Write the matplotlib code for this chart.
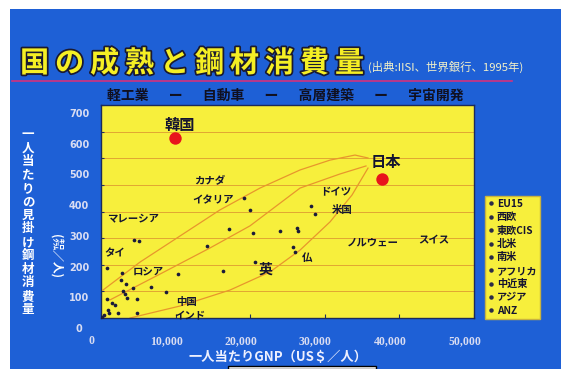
import matplotlib
matplotlib.use('Agg')
import matplotlib.pyplot as plt
import matplotlib.patheffects as pe
from matplotlib.transforms import ScaledTranslation
from matplotlib.lines import Line2D
from matplotlib.patches import Rectangle

plt.rcParams['font.family'] = ['Noto Sans CJK JP', 'DejaVu Sans']

# ---------------- data ----------------
gnp = [19970, 17200, 20420, 14250, 16390, 20640, 10360, 8710, 6660, 4790,
       850, 2780, 2640, 3350, 4250, 2990, 3220, 3450, 4790, 760,
       1430, 1880, 980, 1070, 400, 2320, 4420, 5090, 24000, 26230,
       26450, 25700, 26000, 28150, 28690, 19170, 90]
steel = [406, 334, 318, 272, 178, 209, 164, 99, 118, 20,
         187, 170, 143, 128, 112, 103, 90, 76, 71, 71,
         55, 49, 30, 18, 11, 18, 293, 289, 327, 337,
         327, 268, 249, 422, 390, 450, 3]

hl_names = ['韓国', '日本']
hl_gnp = [9900, 37700]
hl_steel = [677, 522]

lbl_names = ['カナダ', 'イタリア', 'マレーシア', 'タイ', 'ロシア', '中国', 'インド',
             '英', '仏', 'ドイツ', '米国', 'ノルウェー', 'スイス']
lbl_x = [14600, 15000, 4300, 1900, 6300, 11500, 11900,
         22000, 27600, 31500, 32300, 36500, 44600]
lbl_y = [518, 443, 376, 244, 173, 60, 8,
         180, 225, 473, 406, 282, 293]

upper_x = [270, 5230, 10590, 15950, 21310, 26680, 30700, 34050, 35790]
upper_y = [105, 210, 308, 406, 488, 556, 593, 612, 601]
middle_x = [1210, 7910, 14610, 19970, 26680, 32040, 35520]
middle_y = [68, 165, 263, 346, 488, 541, 571]
lower_x = [3890, 10590, 17290, 22650, 26680, 30700, 33650, 35790]
lower_y = [0, 45, 105, 173, 255, 361, 462, 563]

x_ticks = [0, 10000, 20000, 30000, 40000, 50000]
x_tick_labels = ['0', '10,000', '20,000', '30,000', '40,000', '50,000']
y_ticks = [0, 100, 200, 300, 400, 500, 600, 700]
y_tick_labels = ['0', '100', '200', '300', '400', '500', '600', '700']

legend_labels = ['EU15', '西欧', '東欧CIS', '北米', '南米', 'アフリカ', '中近東', 'アジア', 'ANZ']

# ---------------- figure ----------------
W, H = 561, 369
fig = plt.figure(figsize=(W / 100, H / 100), dpi=100)
fig.patch.set_facecolor('white')
BLUE = '#1e60d6'
YEL = '#f7ef3c'
fig.patches.append(Rectangle((10 / W, 0), 551 / W, 1 - 9 / H, transform=fig.transFigure,
                             facecolor=BLUE, edgecolor='none', zorder=-10))
fig.patches.append(Rectangle((228 / W, 0), 148 / W, 3 / H, transform=fig.transFigure,
                             facecolor='white', edgecolor='black', lw=1.0, zorder=5))

ax = fig.add_axes([101 / W, 1 - 318 / H, 373 / W, 213 / H])
ax.set_facecolor(YEL)
ax.set_xlim(0, 50000)
ax.set_ylim(0, 800)
ax.set_yticks(range(0, 801, 100))
ax.set_yticklabels([])
ax.grid(axis='y', color='#e2a632', lw=0.7)
ax.set_axisbelow(True)
ax.set_xticks(x_ticks)
ax.set_xticklabels(x_tick_labels, family='Liberation Serif', weight='bold',
                   fontsize=8.5, color='#d8dcf2')
ax.tick_params(axis='x', direction='in', length=3, color='#203060', pad=12)
ax.tick_params(axis='y', direction='in', length=2, color='#203060')
for lab in ax.get_xticklabels():
    lab.set_transform(lab.get_transform() + ScaledTranslation(-9.5 / 100, 0, fig.dpi_scale_trans))
for s in ax.spines.values():
    s.set_color('#1c2a5a')
    s.set_linewidth(1.0)

# guide curves
for cx, cy in [(upper_x, upper_y), (middle_x, middle_y), (lower_x, lower_y)]:
    ax.plot(cx, cy, color='#e8962c', lw=0.9, zorder=2)

ax.scatter(gnp, steel, s=7, color='#1a1a3a', zorder=3, linewidths=0)
ax.scatter(hl_gnp, hl_steel, s=80, color='#e8141c', zorder=4, linewidths=0)

ax.text(hl_gnp[0] + 600, hl_steel[0] + 48, hl_names[0], fontsize=11, weight='bold',
        color='#141430', ha='center', va='center', zorder=5)
ax.text(hl_gnp[1] + 500, hl_steel[1] + 64, hl_names[1], fontsize=11, weight='bold',
        color='#141430', ha='center', va='center', zorder=5)

for n, x, y in zip(lbl_names, lbl_x, lbl_y):
    fs = 10 if n in ('英',) else 7.5
    ax.text(x, y, n, fontsize=fs, weight='bold', color='#141430', ha='center',
            va='center', zorder=5, clip_on=False)

# y tick label axis (labels drawn with their own spacing as in the slide)
yax = fig.add_axes([79 / W, 1 - 328 / H, 0.5 / W, 215 / H])
yax.set_ylim(0, 700)
yax.set_yticks(y_ticks)
yax.set_yticklabels(y_tick_labels, family='DejaVu Sans', weight='bold',
                    fontsize=7, color='#d8dcf2')
yax.set_xticks([])
yax.set_frame_on(False)
yax.patch.set_alpha(0)
yax.tick_params(axis='y', length=0, pad=0)
for lab in yax.get_yticklabels():
    lab.set_horizontalalignment('center')

# legend
handles = [Line2D([], [], marker='o', ls='none', color='#2a2a48', markersize=2.2)
           for _ in legend_labels]
leg = fig.legend(handles, legend_labels, loc='upper left',
                 bbox_to_anchor=(485 / W, 1 - 196 / H), bbox_transform=fig.transFigure,
                 frameon=True, fancybox=False, facecolor=YEL, edgecolor='#c8b240',
                 framealpha=1, prop={'size': 7.3, 'weight': 'bold'},
                 labelspacing=0.33, handlelength=0.5, handletextpad=0.35,
                 borderpad=0.3, borderaxespad=0)
for t in leg.get_texts():
    t.set_color('#141430')

# titles
title = '\u2009'.join('国の成熟と鋼材消費量')
fig.text(20 / W, 1 - 63 / H, title, fontsize=21, weight='bold', color='#f5ef24',
         va='center', ha='left',
         path_effects=[pe.withStroke(linewidth=2.5, foreground='#1a1a30')])
fig.add_artist(Line2D([12 / W, 512 / W], [1 - 81 / H] * 2, color='#d2327e', lw=1.2, zorder=-5))
fig.text(368 / W, 1 - 67 / H, '(出典:IISI、世界銀行、1995年)', fontsize=8.2,
         color='#f2f0c8', va='center', ha='left')
fig.text(285 / W, 1 - 96 / H, '軽工業\u3000  ー  \u3000自動車\u3000  ー  \u3000高層建築\u3000  ー  \u3000宇宙開発',
         fontsize=10, weight='bold', color='#101020', ha='center', va='center')

# axis titles
fig.text(28 / W, 1 - 222 / H, '\n'.join('一人当たりの見掛け鋼材消費量'), fontsize=9,
         weight='bold', color='white', ha='center', va='center', linespacing=1.05)
fig.text(55 / W, 1 - 256 / H, '(㌕／人)', fontsize=8.5, weight='bold', color='white',
         ha='center', va='center', rotation=-90)
fig.text(278 / W, 1 - 357 / H, '一人当たりGNP（US＄／人）', fontsize=9.5, weight='bold',
         color='#eef0ff', ha='center', va='center')

fig.savefig('out.png', dpi=100, facecolor=fig.get_facecolor())
